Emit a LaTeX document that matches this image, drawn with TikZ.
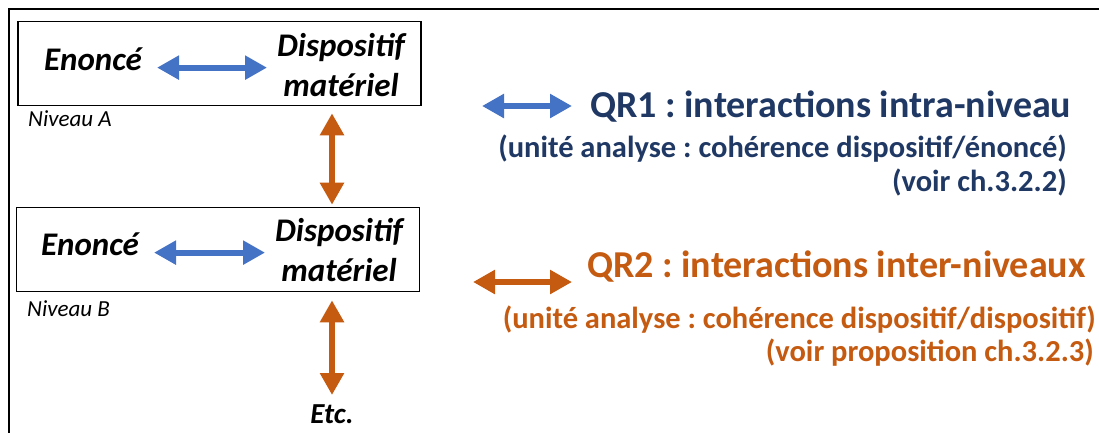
\documentclass[tikz,border=0pt]{standalone}
\usepackage{fontspec}
\setmainfont{Carlito}
\usetikzlibrary{arrows.meta}
\definecolor{navy}{HTML}{1F3864}
\definecolor{rust}{HTML}{C55A11}
\definecolor{officeblue}{HTML}{4472C4}
\frenchspacing
\tikzset{twohead/.style={line width=6pt,{Triangle[width=23pt,length=22pt]}-{Triangle[width=23pt,length=22pt]}}}
\tikzset{intra/.style={twohead,draw=officeblue}}
\tikzset{inter/.style={twohead,draw=rust}}
\tikzset{levelbox/.style={draw,line width=1.6pt,minimum width=403pt,minimum height=84pt,inner sep=0pt}}
\tikzset{term/.style={font=\fontsize{33}{40}\selectfont\bfseries\itshape,inner sep=0pt}}
\tikzset{levelname/.style={font=\fontsize{23}{27}\selectfont\itshape,inner sep=0pt,anchor=base west}}
\tikzset{qrtitle/.style={font=\fontsize{38}{45}\selectfont\bfseries,inner sep=0pt,anchor=base west}}
\tikzset{qrnote/.style={font=\fontsize{30.5}{36}\selectfont\bfseries,inner sep=0pt,anchor=base east}}

\begin{document}
\begin{tikzpicture}[x=1pt,y=-1pt]
        \useasboundingbox (0,0) rectangle (1099,432);
        \draw[line width=1.5pt] (1110,9) -- (9,9) -- (9,445);
        \node[levelbox] (boxA) at (219.5,63.5) {};
        \node[term,anchor=base] (enA) at (93,70) {Enoncé};
        \node[term,align=center] (dispA) at (341,65) {Dispositif\\matériel};
        \node[levelname] (nivA) at (28,126) {Niveau A};
        \node[levelbox] (boxB) at (218,249.5) {};
        \node[term,anchor=base] (enB) at (90,255) {Enoncé};
        \node[term,align=center] (dispB) at (339,250) {Dispositif\\matériel};
        \node[levelname] (nivB) at (27,316) {Niveau B};
        \node[term,font=\fontsize{29}{34}\selectfont\bfseries\itshape,anchor=base] (etc) at (332,423) {Etc.};
        \draw[intra,shorten <=15pt,shorten >=10pt] (enA.mid east) -- (enA.mid east -| dispA.west);
        \draw[intra,shorten <=15pt,shorten >=10pt] (enB.mid east) -- (enB.mid east -| dispB.west);
        \draw[inter,shorten <=7pt,shorten >=2pt] (boxA.south -| etc.north) -- (boxB.north -| etc.north);
        \draw[inter,shorten <=8pt,shorten >=9pt] (boxB.south -| etc.north) -- (etc.north);
        \node[qrtitle,text=navy] (qrone) at (590,117) {QR1 : interactions intra-niveau};
        \node[qrnote,text=navy] (unitA) at (1067,157) {(unité analyse : cohérence dispositif/énoncé)};
        \node[qrnote,text=navy] (voirA) at (1067,191) {(voir ch.3.2.2)};
        \coordinate (legA) at (482,106);
        \draw[intra,shorten >=18pt] (legA) -- (legA -| qrone.west);
        \node[qrtitle,text=rust] (qrtwo) at (587,277) {QR2 : interactions inter-niveaux};
        \node[qrnote,text=rust] (unitB) at (1096,328) {(unité analyse : cohérence dispositif/dispositif)};
        \node[qrnote,text=rust] (voirB) at (1094,361) {(voir proposition ch.3.2.3)};
        \coordinate (legB) at (473,282);
        \draw[inter,shorten >=15pt] (legB) -- (legB -| qrtwo.west);
\end{tikzpicture}
\end{document}
